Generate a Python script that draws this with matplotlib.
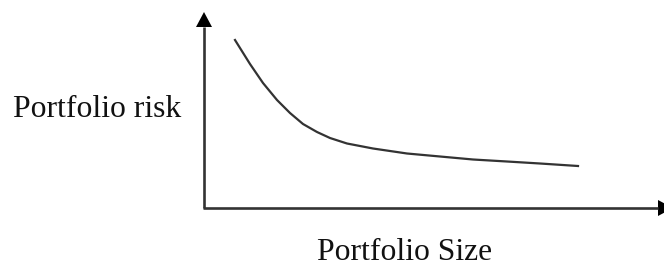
import matplotlib
matplotlib.use("Agg")
import matplotlib.pyplot as plt

# Data (units: pixels relative to the axes origin)
portfolio_size = [31, 46, 59, 73, 86, 99, 113, 126, 143, 169, 203, 236, 269, 303, 336, 374]
portfolio_risk = [168, 144, 125, 108, 95, 84, 76, 70, 64.5, 59.5, 54.5, 51.5, 48.5, 46.5, 44.5, 42]

x_label = "Portfolio Size"
y_label = "Portfolio risk"

W, H = 664, 266
ox, oy = 204, 208  # origin in pixel coords

fig = plt.figure(figsize=(W / 100, H / 100), dpi=100)
ax = fig.add_axes([0, 0, 1, 1])
ax.set_xlim(-ox, W - ox)
ax.set_ylim(-(H - oy), oy)
ax.axis("off")

axis_color = "#333333"
lw = 1.9

# y axis with arrow
ax.plot([0, 0], [0, oy - 27], color=axis_color, lw=lw, solid_capstyle="butt")
ax.fill([-8, 8, 0], [oy - 27, oy - 27, oy - 12], color="black", lw=0)
# x axis with arrow
ax.plot([-1, W - ox - 6], [0, 0], color=axis_color, lw=lw, solid_capstyle="butt")
ax.fill([W - ox - 6, W - ox - 6, W - ox + 9], [8, -8, 0], color="black", lw=0)

# curve
ax.plot(portfolio_size, portfolio_risk, color="#333333", lw=1.6,
        solid_joinstyle="round")

font = "Liberation Serif"
ax.text(13 - ox, oy - 117, y_label, fontsize=22.8, family=font,
        color="#111111", ha="left", va="baseline")
ax.text(317 - ox, oy - 260, x_label, fontsize=22.8, family=font,
        color="#111111", ha="left", va="baseline")

fig.savefig("out.png", dpi=100)
